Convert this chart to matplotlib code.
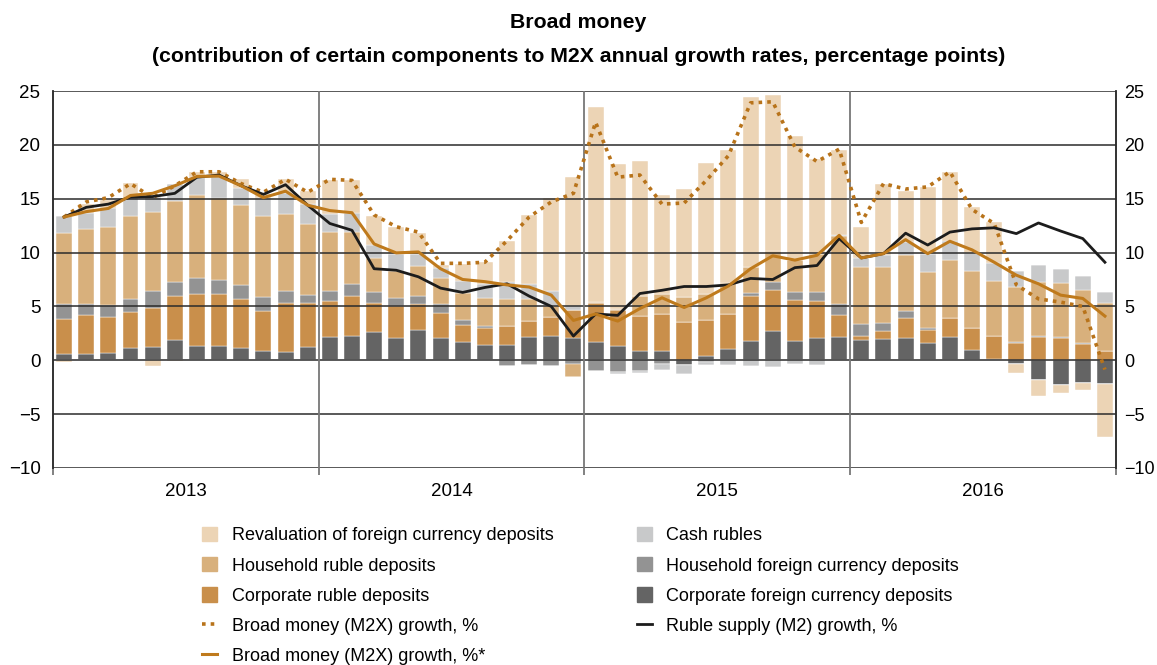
import numpy as np
import matplotlib
matplotlib.use("Agg")
import matplotlib.pyplot as plt
from matplotlib.patches import Patch
from matplotlib.lines import Line2D

plt.rcParams['font.family'] = ['Liberation Sans', 'DejaVu Sans']

years = ["2013", "2014", "2015", "2016"]

# contributions, percentage points (Jan 2013 .. Dec 2016)
corp_fx = [0.62, 0.55, 0.68, 1.1, 1.23, 1.9, 1.3, 1.36, 1.17, 0.9, 0.8, 1.23,
           2.16, 2.25, 2.6, 2.1, 2.78, 2.07, 1.7, 1.39, 1.39, 2.16, 2.25, 2.07,
           1.7, 1.33, 0.83, 0.86, -0.46, 0.37, 1.02, 1.76, 2.7, 1.82, 2.07, 2.16,
           1.9, 1.97, 2.07, 1.6, 2.16, 1.0, 0.1, -0.37, -1.8, -2.25, -2.07, -2.16]
corp_rub = [3.21, 3.62, 3.32, 3.4, 3.67, 4.1, 4.9, 4.84, 4.53, 3.67, 4.5, 4.07,
            3.3, 3.71, 2.7, 2.93, 2.42, 2.33, 1.54, 1.61, 1.79, 1.51, 1.75, 2.56,
            3.6, 3.37, 3.24, 3.44, 3.55, 3.33, 3.24, 4.24, 3.8, 3.78, 3.39, 2.07,
            0.4, 0.73, 1.88, 1.18, 1.79, 1.96, 2.18, 1.6, 2.2, 2.05, 1.5, 0.82]
hh_fx = [1.42, 1.08, 1.1, 1.2, 1.5, 1.3, 1.4, 1.3, 1.3, 1.33, 1.15, 0.75,
         0.94, 1.08, 1.03, 0.74, 0.76, 0.8, 0.53, 0.18, -0.52, -0.46, -0.52, -0.34,
         -1.0, -1.08, -1.0, -0.3, 0.0, -0.2, 0.0, 0.23, 0.8, 0.7, 0.84, 1.02,
         1.03, 0.76, 0.62, 0.22, 0.0, 0.0, 0.0, 0.06, 0.1, 0.08, 0.08, 0.08]
hh_rub = [6.55, 6.91, 7.3, 7.7, 7.4, 7.45, 7.7, 7.6, 7.4, 7.5, 7.15, 6.6,
          5.5, 4.86, 3.17, 2.56, 2.77, 2.4, 2.46, 2.62, 2.47, 2.03, 1.0, -1.2,
          0.1, 0.1, 1.9, 1.9, 2.35, 2.5, 2.94, 2.47, 2.8, 3.0, 3.6, 6.25,
          5.37, 5.21, 5.23, 5.2, 5.4, 5.34, 5.12, 5.14, 5.0, 5.03, 4.99, 4.4]
cash = [1.56, 1.54, 1.7, 1.7, 1.35, 1.65, 1.7, 1.97, 1.6, 1.7, 1.9, 1.85,
        1.7, 1.74, 1.2, 1.57, 1.17, 0.95, 1.17, 1.3, 1.6, 1.4, 1.4, 0.4,
        0.0, -0.15, -0.15, -0.56, -0.77, -0.27, -0.46, -0.55, -0.65, -0.37, -0.4, 0.1,
        0.8, 1.13, 1.2, 1.7, 1.7, 1.67, 1.6, 1.47, 1.53, 1.27, 1.23, 1.03]
reval = [-0.2, 0.8, 0.75, 1.35, -0.5, -0.1, 0.5, 0.45, 0.8, 0.3, 1.35, 1.2,
         3.16, 3.06, 2.7, 2.5, 1.9, 0.25, 1.5, 2.07, 3.85, 6.4, 8.66, 11.97,
         18.1, 13.4, 12.5, 9.1, 10.0, 12.1, 12.3, 15.7, 14.5, 11.5, 8.8, 7.9,
         2.9, 6.6, 4.7, 6.2, 6.45, 4.23, 3.8, -0.8, -1.5, -0.75, -0.68, -4.94]

# growth rates, %
m2x = [13.3, 14.7, 15.1, 16.4, 15.1, 16.2, 17.5, 17.5, 16.4, 15.6, 16.8, 15.6,
       16.8, 16.7, 13.5, 12.4, 11.9, 9.0, 9.0, 9.1, 11.1, 13.3, 14.7, 15.5,
       22.1, 17.0, 17.2, 14.5, 14.6, 16.7, 19.0, 23.9, 24.0, 19.8, 18.45, 19.6,
       12.8, 16.4, 15.9, 16.1, 17.5, 14.0, 12.7, 7.0, 5.7, 5.4, 5.0, -0.86]
m2x_adj = [13.3, 13.8, 14.1, 15.3, 15.5, 16.2, 17.07, 17.1, 16.2, 15.1, 15.7, 14.4,
           13.9, 13.7, 10.8, 9.97, 10.06, 8.5, 7.5, 7.3, 7.0, 6.8, 6.05, 3.7,
           4.3, 3.64, 4.8, 5.8, 4.9, 5.8, 6.9, 8.5, 9.7, 9.3, 9.75, 11.6,
           9.5, 9.9, 11.2, 9.9, 11.05, 10.25, 9.1, 7.9, 7.1, 6.05, 5.74, 4.1]
m2 = [13.3, 14.2, 14.5, 15.15, 15.2, 15.5, 17.0, 17.2, 16.2, 15.4, 16.3, 14.4,
      12.7, 12.07, 8.5, 8.36, 7.75, 6.7, 6.3, 6.76, 7.1, 5.96, 5.0, 2.25,
      4.3, 4.17, 6.2, 6.5, 6.85, 6.85, 7.0, 7.6, 7.5, 8.6, 8.8, 11.3,
      9.5, 9.9, 11.8, 10.7, 11.9, 12.2, 12.3, 11.76, 12.75, 12.0, 11.3, 9.1]

components = [
    ("Corporate foreign currency deposits", corp_fx, "#646464"),
    ("Corporate ruble deposits", corp_rub, "#c98f4b"),
    ("Household foreign currency deposits", hh_fx, "#939393"),
    ("Household ruble deposits", hh_rub, "#d8b07c"),
    ("Cash rubles", cash, "#c8c9ca"),
    ("Revaluation of foreign currency deposits", reval, "#ecd4b5"),
]

n = len(m2x)
x = np.arange(n)

fig = plt.figure(figsize=(11.57, 6.65), dpi=100)
ax = fig.add_axes([53 / 1157, 1 - 468 / 665, (1116 - 53) / 1157, (468 - 91) / 665])

# stacked bars, positive parts up from zero, negative parts down
pos_base = np.zeros(n)
neg_base = np.zeros(n)
for name, vals, col in components:
    v = np.array(vals)
    p = np.where(v > 0, v, 0)
    q = np.where(v < 0, v, 0)
    ax.bar(x, p, 0.72, bottom=pos_base, color=col, edgecolor='white', linewidth=0.3, zorder=2)
    ax.bar(x, q, 0.72, bottom=neg_base, color=col, edgecolor='white', linewidth=0.3, zorder=2)
    pos_base += p
    neg_base += q

# grid
for yv in range(-10, 26, 5):
    ax.axhline(yv, color='#2b2b2b', linewidth=1.1, zorder=2.5)
for xv in [11.5, 23.5, 35.5]:
    ax.axvline(xv, color='#777777', linewidth=1.3, zorder=2.5)

ax.plot(x, m2x, color='#b8731a', linewidth=2.6, linestyle=(0, (1, 1.4)), zorder=4)
ax.plot(x, m2, color='#1c1c1c', linewidth=2.0, zorder=4)
ax.plot(x, m2x_adj, color='#bf7a1c', linewidth=2.2, zorder=4)

yt = list(range(-10, 26, 5))
ylab = [str(v).replace('-', '\u2212') for v in yt]
ax.set_xlim(-0.5, n - 0.5)
ax.set_ylim(-10, 25)
ax.set_yticks(yt)
ax.set_yticklabels(ylab)
ax.tick_params(axis='y', length=0, labelsize=13.5, pad=9)

# right-hand labels
ax_r = ax.twinx()
ax_r.set_ylim(-10, 25)
ax_r.set_yticks(yt)
ax_r.set_yticklabels(ylab)
ax_r.tick_params(axis='y', length=0, labelsize=13, pad=6)

ax.set_xticks([-0.5, 11.5, 23.5, 35.5, 47.5])
ax.set_xticklabels([])
ax.set_xticks([5.5, 17.5, 29.5, 41.5], minor=True)
ax.set_xticklabels(years, minor=True)
ax.tick_params(axis='x', which='major', length=5, color='#777777', width=1.3)
ax.tick_params(axis='x', which='minor', length=0, labelsize=13.5, pad=11)
for a in (ax, ax_r):
    for s in ['top', 'bottom']:
        a.spines[s].set_visible(False)
    for s in ['left', 'right']:
        a.spines[s].set_color('#2b2b2b')
        a.spines[s].set_linewidth(1.1)

fig.text(0.5, 1 - 23 / 665, "Broad money", ha='center', va='center',
         fontsize=15.3, fontweight='bold')
fig.text(0.5, 1 - 57 / 665,
         "(contribution of certain components to M2X annual growth rates, percentage points)",
         ha='center', va='center', fontsize=15.3, fontweight='bold')

cmap = {name: col for name, _, col in components}
handles = [
    Patch(color=cmap["Revaluation of foreign currency deposits"]),
    Patch(color=cmap["Household ruble deposits"]),
    Patch(color=cmap["Corporate ruble deposits"]),
    Line2D([], [], color='#b8731a', linewidth=2.6, linestyle=(0, (1, 1.4))),
    Line2D([], [], color='#bf7a1c', linewidth=2.2),
    Patch(color=cmap["Cash rubles"]),
    Patch(color=cmap["Household foreign currency deposits"]),
    Patch(color=cmap["Corporate foreign currency deposits"]),
    Line2D([], [], color='#1c1c1c', linewidth=2.0),
]
labels = [
    "Revaluation of foreign currency deposits",
    "Household ruble deposits",
    "Corporate ruble deposits",
    "Broad money (M2X) growth, %",
    "Broad money (M2X) growth, %*",
    "Cash rubles",
    "Household foreign currency deposits",
    "Corporate foreign currency deposits",
    "Ruble supply (M2) growth, %",
]
fig.legend(handles, labels, ncol=2, loc='upper left',
           bbox_to_anchor=(202 / 1157, 1 - 527 / 665), frameon=False,
           borderpad=0, borderaxespad=0,
           fontsize=13, handlelength=0.85, handleheight=0.85, handletextpad=0.8,
           labelspacing=0.7, columnspacing=4.6)

fig.savefig("out.png", dpi=100)
